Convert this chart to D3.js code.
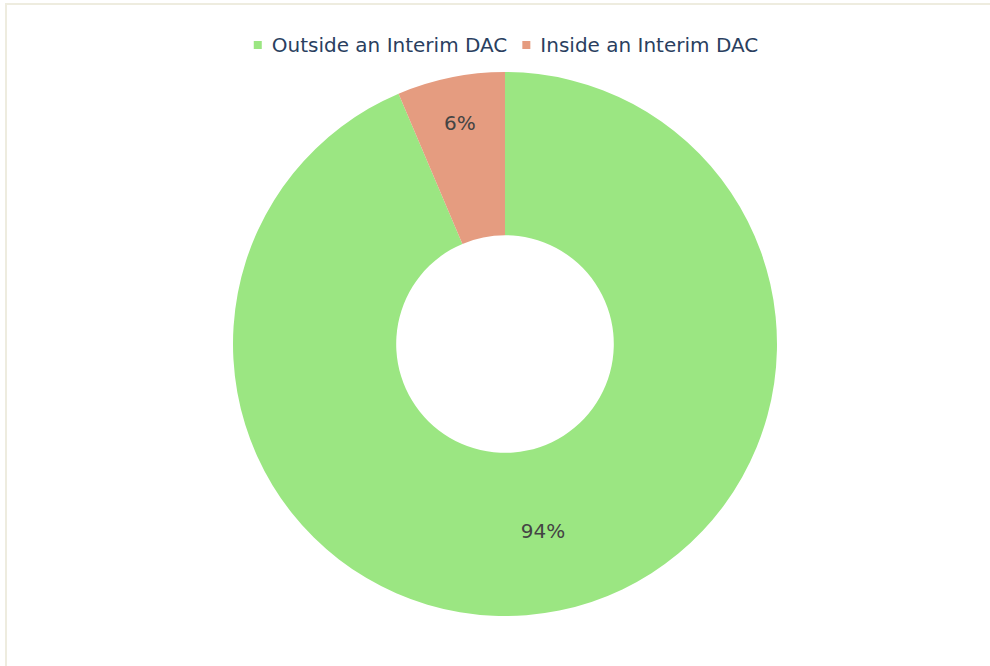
<!DOCTYPE html>
<html>
<head>
<meta charset="utf-8">
<script src="https://cdn.jsdelivr.net/npm/d3@7"></script>
<style>
  html, body { margin: 0; padding: 0; background: #fff; }
  svg { display: block; }
</style>
</head>
<body>
<svg id="chart" width="990" height="666"></svg>
<script>
// Share of sites by location relative to an Interim DAC
const categories = ["Outside an Interim DAC", "Inside an Interim DAC"];
const shares = [93.6, 6.4];
const colors = ["#9be682", "#e59c80"];

const W = 990, H = 666;
const svg = d3.select("#chart");

// light frame around the figure
svg.append("rect")
  .attr("x", 6).attr("y", 4)
  .attr("width", W + 10).attr("height", H + 10)
  .attr("fill", "#fff")
  .attr("stroke", "#eeecdf")
  .attr("stroke-width", 2);

const cx = 505, cy = 344;
const outerR = 272, innerR = outerR * 0.4;

const pie = d3.pie().sort(null).value(d => d.v);
const arcs = pie(categories.map((c, i) => ({ c, v: shares[i], color: colors[i] })));

const arc = d3.arc().innerRadius(innerR).outerRadius(outerR);
const g = svg.append("g").attr("transform", `translate(${cx},${cy})`);

g.selectAll("path.slice")
  .data(arcs)
  .join("path")
  .attr("class", "slice")
  .attr("d", arc)
  .attr("fill", d => d.data.color);

// percentage labels; narrow slices get their label pushed outward
const total = d3.sum(shares);
g.selectAll("text.pct")
  .data(arcs)
  .join("text")
  .attr("class", "pct")
  .attr("transform", d => {
    const narrow = (d.endAngle - d.startAngle) < 0.6;
    const r = narrow ? innerR + (outerR - innerR) * 0.715 : (innerR + outerR) / 2;
    const a = (d.startAngle + d.endAngle) / 2;
    return `translate(${Math.sin(a) * r},${-Math.cos(a) * r})`;
  })
  .attr("text-anchor", "middle")
  .attr("dominant-baseline", "central")
  .attr("font-family", "'DejaVu Sans', Verdana, sans-serif")
  .attr("font-size", 20)
  .attr("fill", "#444")
  .text(d => Math.round(d.data.v / total * 100) + "%");

// legend, centred across the top
const legend = svg.append("g");
const items = legend.selectAll("g.item")
  .data(categories)
  .join("g")
  .attr("class", "item");

items.append("rect")
  .attr("width", 8).attr("height", 8)
  .attr("y", -4)
  .attr("fill", (d, i) => colors[i]);

items.append("text")
  .attr("x", 18)
  .attr("dominant-baseline", "central")
  .attr("font-family", "'DejaVu Sans', Verdana, sans-serif")
  .attr("font-size", 20)
  .attr("fill", "#2a3f5f")
  .text(d => d);

// lay items out left to right, then centre the row
const gap = 15;
let x = 0;
items.each(function () {
  const w = this.getBBox().width;
  d3.select(this).attr("transform", `translate(${x},0)`);
  x += w + gap;
});
const rowW = x - gap;
legend.attr("transform", `translate(${(W - rowW) / 2 + 11},45)`);
</script>
</body>
</html>
